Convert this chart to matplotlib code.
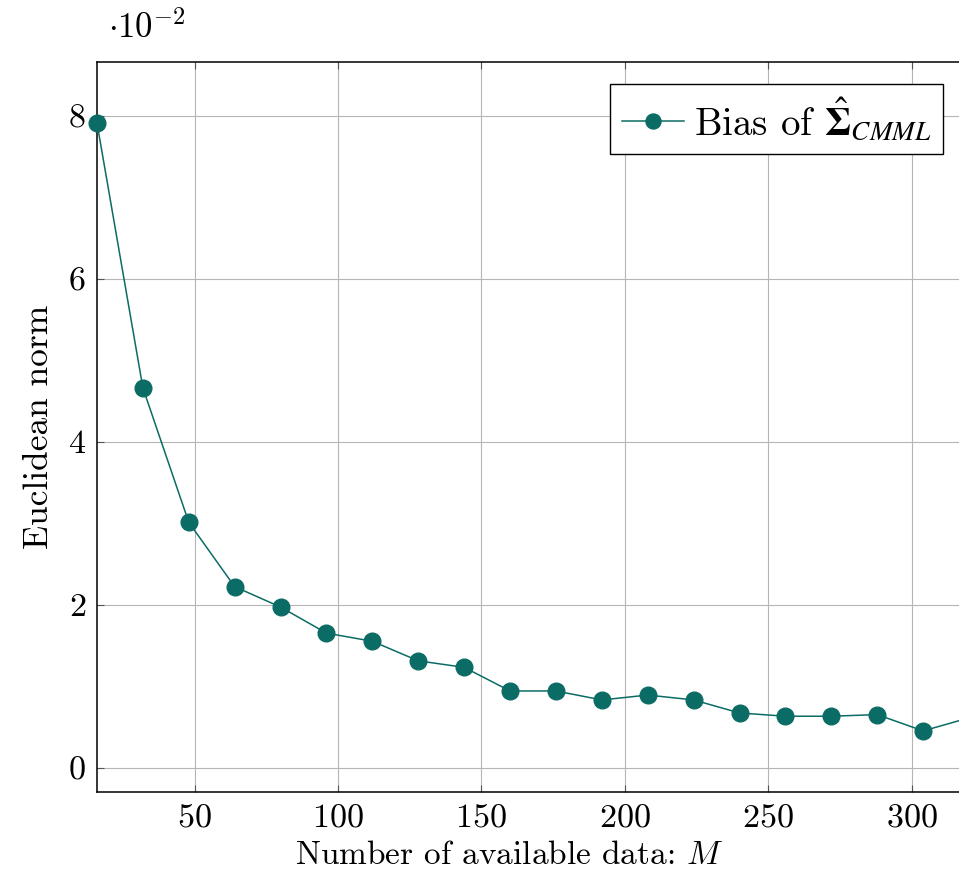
import matplotlib
matplotlib.use("Agg")
import matplotlib.pyplot as plt
from matplotlib.ticker import FuncFormatter
from matplotlib.font_manager import FontProperties

plt.rcParams['font.family'] = ['cmr10', 'DejaVu Serif']
plt.rcParams['mathtext.fontset'] = 'cm'
plt.rcParams['axes.formatter.use_mathtext'] = True
plt.rcParams['axes.unicode_minus'] = False

# number of available data M
M = [16, 32, 48, 64, 80, 96, 112, 128, 144, 160, 176, 192, 208, 224, 240, 256, 272, 288, 304, 320]
# bias (x 10^-2)
bias = [7.91, 4.66, 3.01, 2.22, 1.97, 1.65, 1.55, 1.31, 1.23, 0.94, 0.94, 0.83, 0.89, 0.83,
        0.67, 0.63, 0.63, 0.65, 0.45, 0.61]

xticks = [50, 100, 150, 200, 250, 300]
yticks = [0, 2, 4, 6, 8]

color = '#0b6c65'

fig = plt.figure(figsize=(9.59, 8.83), dpi=100)
ax = fig.add_axes([97/959, 1-792/883, (969-97)/959, (792-62)/883])

ax.plot(M, bias, '-o', color=color, lw=1.1, ms=12, label=r'Bias of $\hat{\boldsymbol{\Sigma}}_{CMML}$',
        clip_on=False, zorder=3)

ax.set_xlim(16, 320)
ax.set_ylim(-0.30, 8.66)
ax.set_xticks(xticks)
ax.set_yticks(yticks)
ax.yaxis.set_major_formatter(FuncFormatter(lambda v, p: '%d' % v))
ax.grid(True, color='#b5b5b5', lw=0.8)
ax.set_axisbelow(True)
ax.tick_params(direction='in', length=5, width=0.8, labelsize=24.5, top=True, right=True, pad=8,
               color='#555555')
for s in ax.spines.values():
    s.set_linewidth(1.1)

ax.set_xlabel(r'Number of available data: $M$', fontsize=24)
ax.xaxis.set_label_coords((509-97)/872, -(841-792)/730)
ax.set_ylabel('Euclidean norm', fontsize=25.5, labelpad=10)

fig.text(108/959, 1-28/883, r'$\cdot 10^{-2}$', fontsize=25, va='center', ha='left')

legprop = FontProperties(family='cmr10', size=28, math_fontfamily='stix')
leg = ax.legend(loc='upper right', bbox_to_anchor=((943-97)/(969-97), (792-84)/(792-62)),
                prop=legprop, frameon=True, fancybox=False, edgecolor='black', framealpha=1,
                handlelength=1.6, borderpad=0.3, handletextpad=0.25, borderaxespad=0,
                markerscale=0.9)
leg.get_frame().set_linewidth(1.0)

fig.savefig('out.png', dpi=100)
